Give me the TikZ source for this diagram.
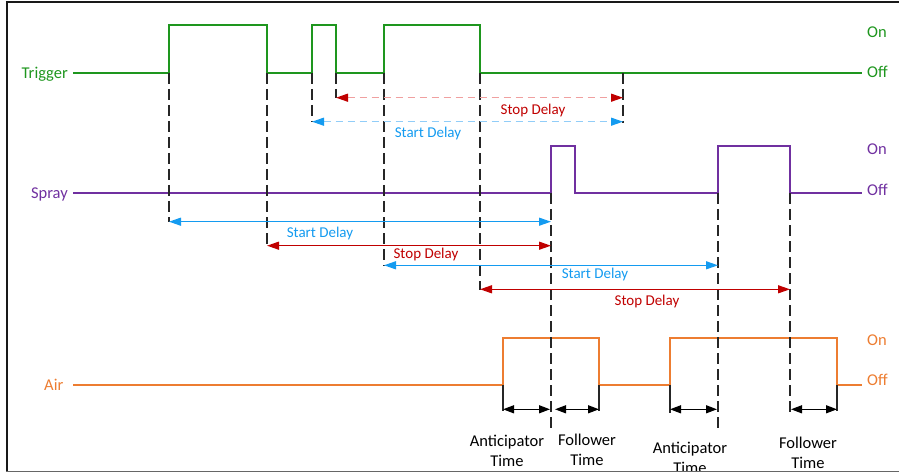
\documentclass[tikz,border=0pt]{standalone}
\usepackage{fontspec}
\setmainfont{Carlito}
\usetikzlibrary{arrows.meta}
\definecolor{trig}{RGB}{30,150,30}
\definecolor{spr}{RGB}{112,48,160}
\definecolor{air}{RGB}{237,125,49}
\definecolor{myblue}{RGB}{20,155,240}
\definecolor{myred}{RGB}{192,0,0}
\definecolor{palered}{RGB}{240,160,160}
\definecolor{paleblue}{RGB}{145,205,248}
\begin{document}
\begin{tikzpicture}[x=1pt,y=-1pt,
  sig/.style={line width=2pt},
  drop/.style={black!85, line width=1.8pt, dash pattern=on 11pt off 5pt},
  tickline/.style={black!85, line width=1.8pt},
  darr/.style={line width=1.3pt},
  lbl/.style={font=\fontsize{16.5}{20}\selectfont, inner sep=0pt, anchor=base},
  dlbl/.style={font=\fontsize{15}{18}\selectfont, inner sep=0pt, anchor=base},
  blbl/.style={font=\fontsize{16.5}{20}\selectfont, inner sep=0pt, anchor=north, align=center},
]
\useasboundingbox (0,0) rectangle (899,473);

% ---------------- waveforms ----------------
\draw[sig, trig] (73,73) -- (169,73) -- (169,25) -- (267,25) -- (267,73) -- (312,73) -- (312,25) -- (336,25) -- (336,73) -- (384,73) -- (384,25) -- (480,25) -- (480,73) -- (862,73);
\draw[sig, spr] (73,193) -- (551,193) -- (551,146) -- (575,146) -- (575,193) -- (718,193) -- (718,146) -- (790,146) -- (790,193) -- (862,193);
\draw[sig, air] (73,385) -- (503,385) -- (503,338) -- (599,338) -- (599,385) -- (670,385) -- (670,338) -- (837,338) -- (837,385) -- (862,385);

% ---------------- signal labels ----------------
\node[lbl, trig, anchor=base east] (ltrig) at (68,78.3) {Trigger};
\node[lbl, spr, anchor=base east] (lspr) at (68,198.3) {Spray};
\node[lbl, air, anchor=base east] (lair) at (63.5,390.7) {Air};
\node[lbl, trig, anchor=base west] (ton) at (867,37.3) {On};
\node[lbl, trig, anchor=base west] (toff) at (867,77.3) {Off};
\node[lbl, spr, anchor=base west] (son) at (867,154.3) {On};
\node[lbl, spr, anchor=base west] (soff) at (867,195.7) {Off};
\node[lbl, air, anchor=base west] (aon) at (867,345.7) {On};
\node[lbl, air, anchor=base west] (aoff) at (867,385.7) {Off};

% ---------------- coordinates ----------------
\coordinate (t1) at (169,73);  \coordinate (t1b) at (169,222);
\coordinate (t2) at (267,73);  \coordinate (t2b) at (267,246);
\coordinate (t3) at (312,73);  \coordinate (t3b) at (312,122);
\coordinate (t4) at (336,73);  \coordinate (t4b) at (336,98);
\coordinate (t5) at (384,73);  \coordinate (t5b) at (384,266);
\coordinate (t6) at (480,73);  \coordinate (t6b) at (480,290);
\coordinate (t7) at (623,73);  \coordinate (t7b) at (623,123);
\coordinate (s1) at (551,193); \coordinate (s1b) at (551,429);
\coordinate (s2) at (718,193); \coordinate (s2b) at (718,429);
\coordinate (s3) at (790,193); \coordinate (s3b) at (790,412);
\coordinate (a1) at (503,385); \coordinate (a1b) at (503,411);
\coordinate (a2) at (599,385); \coordinate (a2b) at (599,411);
\coordinate (a3) at (670,385); \coordinate (a3b) at (670,413);
\coordinate (a4) at (837,385); \coordinate (a4b) at (837,411);

% ---------------- drop lines ----------------
\foreach \p in {t1,t2,t3,t4,t5,t6,t7,s1,s2,s3}
  \draw[drop] (\p) -- (\p b);
\foreach \p in {a1,a2,a3,a4}
  \draw[tickline] (\p) -- (\p b);

% ---------------- trigger delay arrows (dashed, pale) ----------------
\coordinate (r0l) at (336,97.7);  \coordinate (r0r) at (623,97.7);
\coordinate (b0l) at (312,121.7); \coordinate (b0r) at (623,121.7);
\draw[darr, palered, dash pattern=on 7pt off 5pt,
  {Triangle[length=12pt,width=8pt,color=myred]}-{Triangle[length=12pt,width=8pt,color=myred]}] (r0l) -- (r0r);
\draw[darr, paleblue, dash pattern=on 7pt off 5pt,
  {Triangle[length=12pt,width=8pt,color=myblue]}-{Triangle[length=12pt,width=8pt,color=myblue]}] (b0l) -- (b0r);
\node[dlbl, myred] (sd0) at (533,114.7) {Stop Delay};
\node[dlbl, myblue] (st0) at (428,138) {Start Delay};

% ---------------- spray delay arrows ----------------
\coordinate (b1l) at (169,221.7); \coordinate (b1r) at (551,221.7);
\coordinate (r1l) at (267,245.7); \coordinate (r1r) at (551,245.7);
\coordinate (b2l) at (384,265.3); \coordinate (b2r) at (718,265.3);
\coordinate (r2l) at (480,289.3); \coordinate (r2r) at (790,289.3);
\draw[darr, myblue, {Triangle[length=12pt,width=8pt]}-{Triangle[length=12pt,width=8pt]}] (b1l) -- (b1r);
\draw[darr, myred, {Triangle[length=12pt,width=8pt]}-{Triangle[length=12pt,width=8pt]}] (r1l) -- (r1r);
\draw[darr, myblue, {Triangle[length=12pt,width=8pt]}-{Triangle[length=12pt,width=8pt]}] (b2l) -- (b2r);
\draw[darr, myred, {Triangle[length=12pt,width=8pt]}-{Triangle[length=12pt,width=8pt]}] (r2l) -- (r2r);
\node[dlbl, myblue] (st1) at (320,237) {Start Delay};
\node[dlbl, myred] (sd1) at (426,258) {Stop Delay};
\node[dlbl, myblue] (st2) at (595,278) {Start Delay};
\node[dlbl, myred] (sd2) at (647,305.4) {Stop Delay};

% ---------------- air timing arrows ----------------
\coordinate (x1l) at (503,409.3); \coordinate (x1r) at (550,409.3);
\coordinate (x2l) at (555,409.3); \coordinate (x2r) at (599,409.3);
\coordinate (x3l) at (670,409.3); \coordinate (x3r) at (717,409.3);
\coordinate (x4l) at (791,409.3); \coordinate (x4r) at (837,409.3);
\foreach \p in {x1,x2,x3,x4}
  \draw[darr, black, {Triangle[length=11pt,width=8pt]}-{Triangle[length=11pt,width=8pt]}] (\p l) -- (\p r);

\node[blbl] (ant1) at (507,435) {Anticipator\\Time};
\node[blbl] (fol1) at (587,434.3) {Follower\\Time};
\node[blbl] (ant2) at (690,441.7) {Anticipator\\Time};
\node[blbl] (fol2) at (808,437.3) {Follower\\Time};

% ---------------- frame ----------------
\draw[black!90, line width=2.2pt] (7,1.2) -- (7,471.5);
\draw[black!90, line width=2pt] (5.9,2.3) -- (899,2.3);
\fill[white] (0,472.3) rectangle (899,473);
\draw[black!60, line width=1.4pt] (5.9,471.6) -- (899,471.6);
\end{tikzpicture}
\end{document}
